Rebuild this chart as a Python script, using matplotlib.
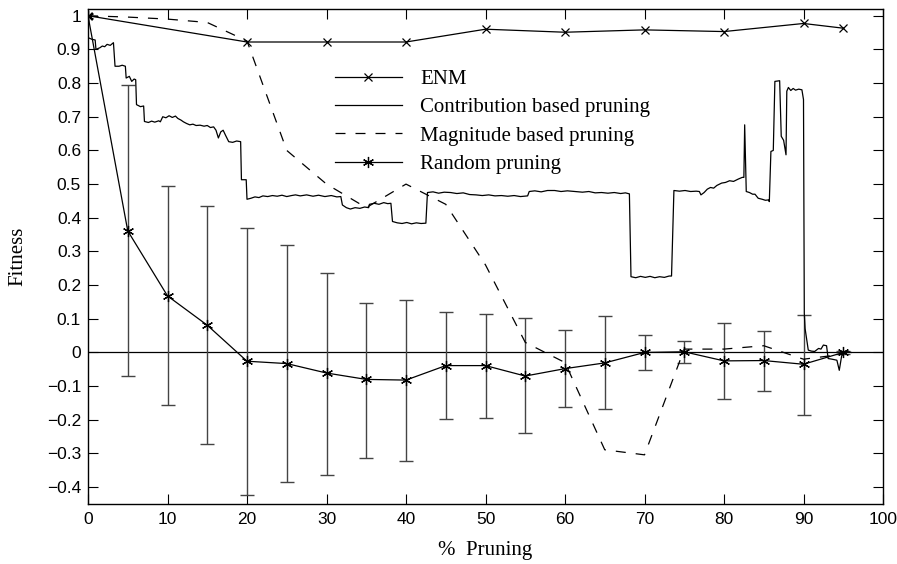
import matplotlib
matplotlib.use('Agg')
import matplotlib.pyplot as plt
import numpy as np

# ENM (x markers)
enm_x = [0, 20, 30, 40, 50, 60, 70, 80, 90, 95]
enm_y = [1.0, 0.922, 0.922, 0.922, 0.96, 0.951, 0.958, 0.953, 0.977, 0.963]

# magnitude based pruning (dashed)
mag_x = [0, 5, 10, 15, 20, 25, 30, 35, 40, 45, 50, 55, 60, 65, 70, 75, 80, 85, 90, 95]
mag_y = [1.0, 0.996, 0.99, 0.98, 0.925, 0.60, 0.50, 0.43, 0.50, 0.44, 0.26, 0.03,
         -0.03, -0.289, -0.304, 0.01, 0.01, 0.02, -0.02, -0.005]

# random pruning, mean with error bars
rnd_x = [0, 5, 10, 15, 20, 25, 30, 35, 40, 45, 50, 55, 60, 65, 70, 75, 80, 85, 90, 95]
rnd_y = [1.0, 0.361, 0.168, 0.081, -0.026, -0.033, -0.061, -0.08, -0.082, -0.039,
         -0.039, -0.07, -0.048, -0.031, 0.0, 0.002, -0.025, -0.024, -0.035, 0.0]
rnd_hi = [1.0, 0.793, 0.494, 0.435, 0.37, 0.32, 0.237, 0.148, 0.156, 0.12,
          0.114, 0.101, 0.068, 0.108, 0.051, 0.034, 0.088, 0.065, 0.112, 0.004]
rnd_lo = [1.0, -0.071, -0.157, -0.273, -0.424, -0.386, -0.364, -0.313, -0.321, -0.199,
          -0.196, -0.239, -0.162, -0.169, -0.051, -0.03, -0.139, -0.114, -0.185, -0.004]

# contribution based pruning (solid, noisy)
contrib_x = [0.0, 0.5, 0.9, 1.0, 1.5, 1.8, 2.1, 2.4, 2.8, 3.2, 3.4, 3.9, 4.3, 4.7, 4.8,
             5.2, 5.5, 5.8, 6.0, 6.1, 6.6, 7.0, 7.1, 7.6, 8.0, 8.4, 8.9, 9.1, 9.4, 9.8,
             10.2, 10.6, 11.0, 11.3, 11.7, 12.0, 12.4, 12.8, 13.2, 13.6, 14.1, 14.6,
             15.0, 15.4, 15.8, 16.1, 16.4, 16.7, 17.0, 17.3, 17.7, 18.2, 18.7, 19.2,
             19.3, 19.9, 20.0, 20.5, 21.0, 21.5, 22.0, 22.6, 23.2, 23.8, 24.4, 25.0,
             25.6, 26.1, 26.7, 27.5, 28.3, 29.0, 29.8, 30.6, 31.3, 31.8, 32.0, 32.5,
             33.0, 33.6, 34.2, 34.8, 35.3, 35.4, 36.0, 36.6, 37.2, 37.7, 38.1, 38.3,
             38.9, 39.5, 40.1, 40.7, 41.3, 41.9, 42.5, 42.7, 43.4, 44.1, 44.8, 45.6,
             46.4, 47.2, 48.0, 48.8, 49.6, 50.4, 51.2, 52.0, 52.8, 53.6, 54.4, 55.3,
             55.5, 56.2, 57.0, 57.8, 58.7, 59.5, 60.3, 61.3, 62.2, 63.0, 63.8, 64.6,
             65.4, 66.2, 67.0, 67.6, 68.1, 68.3, 68.9, 69.5, 70.1, 70.7, 71.3, 71.9,
             72.5, 73.1, 73.4, 73.7, 74.4, 75.1, 75.8, 76.5, 76.9, 77.1, 77.5, 77.9,
             78.3, 78.7, 79.1, 79.7, 80.2, 80.7, 81.2, 81.8, 82.3, 82.5, 82.6, 82.8,
             83.2, 83.6, 83.9, 84.3, 84.8, 85.2, 85.6, 85.7, 85.9, 86.2, 86.4, 87.0,
             87.2, 87.5, 87.8, 87.9, 88.1, 88.4, 88.7, 89.0, 89.4, 89.8, 90.0, 90.1,
             90.2, 90.6, 91.0, 91.4, 91.9, 92.2, 92.5, 92.9, 93.1, 93.6, 94.2, 94.5,
             94.8, 95.3, 96.0]
contrib_y = [0.935, 0.93, 0.928, 0.90, 0.905, 0.91, 0.908, 0.915, 0.912, 0.92, 0.85, 0.85,
             0.853, 0.85, 0.815, 0.82, 0.805, 0.812, 0.81, 0.736, 0.73, 0.732, 0.686,
             0.683, 0.687, 0.684, 0.688, 0.685, 0.70, 0.697, 0.703, 0.698, 0.702, 0.695,
             0.69, 0.685, 0.68, 0.676, 0.678, 0.674, 0.675, 0.672, 0.674, 0.668, 0.67,
             0.66, 0.637, 0.655, 0.66, 0.645, 0.626, 0.624, 0.628, 0.626, 0.513, 0.513,
             0.455, 0.458, 0.462, 0.46, 0.465, 0.463, 0.466, 0.464, 0.467, 0.463, 0.466,
             0.468, 0.465, 0.468, 0.464, 0.467, 0.463, 0.466, 0.462, 0.463, 0.438, 0.43,
             0.426, 0.43, 0.428, 0.432, 0.43, 0.44, 0.443, 0.44, 0.445, 0.442, 0.443,
             0.389, 0.385, 0.383, 0.386, 0.382, 0.385, 0.383, 0.384, 0.475, 0.477, 0.473,
             0.476, 0.475, 0.472, 0.474, 0.469, 0.468, 0.466, 0.468, 0.465, 0.466, 0.464,
             0.466, 0.463, 0.465, 0.478, 0.48, 0.477, 0.481, 0.481, 0.478, 0.48, 0.478,
             0.476, 0.478, 0.474, 0.475, 0.473, 0.475, 0.472, 0.474, 0.471, 0.225, 0.222,
             0.226, 0.223, 0.226, 0.222, 0.225, 0.223, 0.227, 0.227, 0.481, 0.479, 0.481,
             0.478, 0.479, 0.478, 0.468, 0.475, 0.485, 0.49, 0.488, 0.496, 0.503, 0.505,
             0.51, 0.508, 0.515, 0.52, 0.52, 0.676, 0.478, 0.475, 0.47, 0.47, 0.458,
             0.455, 0.452, 0.453, 0.448, 0.597, 0.6, 0.805, 0.807, 0.642, 0.63, 0.587,
             0.776, 0.787, 0.778, 0.784, 0.779, 0.782, 0.78, 0.751, 0.116, 0.071, 0.007,
             0.004, 0.003, 0.012, 0.01, 0.022, 0.02, -0.018, -0.02, -0.023, -0.053, -0.01,
             0.003, 0.0]

serif = ['Liberation Serif', 'DejaVu Serif']
plt.rcParams['font.family'] = ['Liberation Sans', 'DejaVu Sans']

fig = plt.figure(figsize=(8.97, 5.64), dpi=100)
ax = fig.add_axes([88/897, 1 - 504/564, 795/897, 495/564])

lw = 0.9
ax.axhline(0, color='black', lw=lw, zorder=1)

rnd_y_a = np.array(rnd_y)
yerr = [rnd_y_a - np.array(rnd_lo), np.array(rnd_hi) - rnd_y_a]
ax.errorbar(rnd_x[1:], rnd_y[1:], yerr=[yerr[0][1:], yerr[1][1:]], fmt='none',
            ecolor='#444444', elinewidth=1.0, capsize=5, capthick=1.0, zorder=2)

ax.plot(enm_x, enm_y, color='black', lw=lw, marker='x', ms=6, mew=0.9, label='ENM', zorder=4)
ax.plot(contrib_x, contrib_y, color='black', lw=lw, label='Contribution based pruning', zorder=3)
ax.plot(mag_x, mag_y, color='black', lw=lw, ls=(0, (8, 8)), label='Magnitude based pruning', zorder=3)
ax.plot(rnd_x, rnd_y, color='black', lw=lw, marker=(6, 2, 0), ms=8, mew=0.9,
        label='Random pruning', zorder=4)

ax.set_xlim(0, 100)
ax.set_ylim(-0.45, 1.02)
ax.set_xticks(np.arange(0, 101, 10))
ax.set_yticks(np.round(np.arange(-0.4, 1.01, 0.1), 1))
ax.set_yticklabels(['\u22120.4', '\u22120.3', '\u22120.2', '\u22120.1', '0', '0.1', '0.2', '0.3',
                    '0.4', '0.5', '0.6', '0.7', '0.8', '0.9', '1'])
ax.tick_params(direction='in', top=True, right=True, length=7, width=0.8, labelsize=12.5)
ax.tick_params(axis='x', pad=6)
ax.tick_params(axis='y', pad=5)
for s in ax.spines.values():
    s.set_linewidth(1.0)

ax.set_xlabel('%  Pruning', family=serif, fontsize=15, labelpad=10)
ax.set_ylabel('Fitness', family=serif, fontsize=15, labelpad=14)

leg = ax.legend(loc='upper left', bbox_to_anchor=(0.30, 0.895), frameon=False,
                prop={'family': serif, 'size': 15}, handlelength=3.2, handletextpad=0.9,
                labelspacing=0.42, borderaxespad=0)

fig.savefig('out.png', dpi=100)
